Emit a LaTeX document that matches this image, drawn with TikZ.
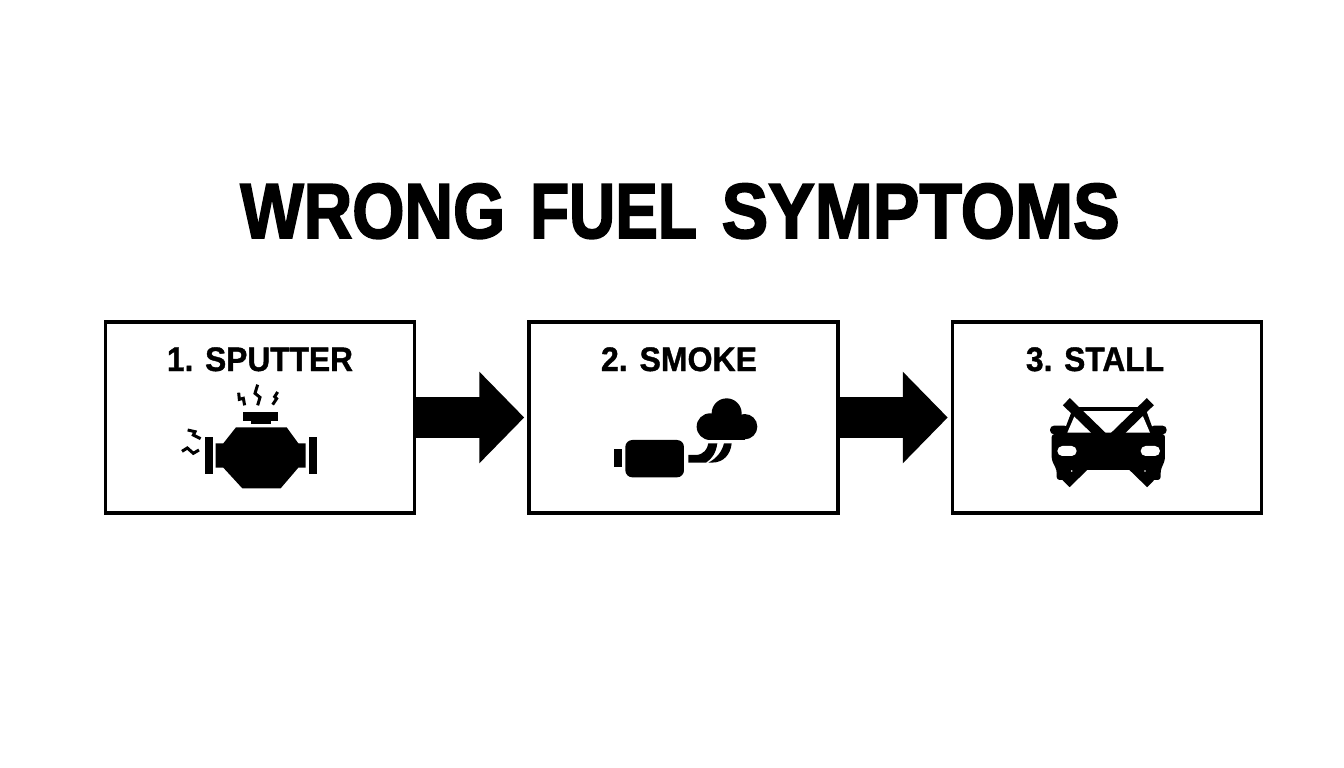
\documentclass[tikz,border=0pt]{standalone}
\usepackage{fontspec}
\usepackage{graphicx}
\setmainfont{Liberation Sans}[BoldFeatures={FakeBold=1.2}]
\newfontfamily\titlefont{Liberation Sans}[BoldFeatures={FakeBold=2.4}]
\usetikzlibrary{arrows.meta}
\newcommand{\fitw}[2]{\resizebox{#1}{\height}{\bfseries #2}}
\tikzset{
  x=1pt,y=-1pt,
  stepbox/.style={draw=black,line width=3.5pt,minimum width=309pt,minimum height=191pt,inner sep=0pt,outer sep=1.75pt},
  steplabel/.style={inner sep=0pt,font=\fontsize{34pt}{34pt}\selectfont,text=black,anchor=base},
  bigarrow/.style={line width=41pt,-{Triangle[length=45pt,width=89pt]},shorten >=3pt},
  squig/.style={line width=3pt,draw=black,fill=none,line join=miter},
  zoomA/.style={shift={(160,370)},x=0.3333pt,y=-0.3333pt},
  zoomB/.style={shift={(600,390)},x=0.3333pt,y=-0.3333pt},
  zoomC/.style={shift={(1030,385)},x=0.3333pt,y=-0.3333pt}
}
\begin{document}
\begin{tikzpicture}
\useasboundingbox (0,0) rectangle (1344,768);
\fill[white] (0,0) rectangle (1344,768);
\node[inner sep=0pt,anchor=base,font=\titlefont\fontsize{78pt}{78pt}\selectfont] (title) at (680,238) {\fitw{265pt}{WRONG}\hspace{3pt} \fitw{167pt}{FUEL}\hspace{3pt} \fitw{398pt}{SYMPTOMS}};
\node[stepbox] (a) at (260,417.5) {};
\node[stepbox] (b) at (683.5,417.5) {};
\node[stepbox] (c) at (1107,417.5) {};
\node[steplabel] (la) at (260,371) {\fitw{186pt}{1. SPUTTER}};
\node[steplabel] (lb) at (679,371) {\fitw{156pt}{2. SMOKE}};
\node[steplabel] (lc) at (1095,371) {\fitw{138pt}{3. STALL}};
\draw[bigarrow] (a.east) -- (b.west);
\draw[bigarrow] (b.east) -- (c.west);
% engine
\begin{scope}[zoomA]
\fill (228,172)--(380,172)--(415,220)--(437,220)--(437,293)--(415,293)--(362,355)--(247,355)--(190,293)--(167,293)--(167,220)--(190,220)--cycle;
\fill (134,200) rectangle (158,312);
\fill (446,202) rectangle (470,312);
\fill (250,127) rectangle (355,152);
\fill (272,152) rectangle (332,162);
\draw[squig] (293,44)--(285,70)--(300,82)--(293,106);
\draw[squig] (236,68)--(238,88)--(250,85)--(254,106);
\draw[squig] (353,66)--(344,80)--(350,86)--(338,104);
\draw[squig] (83,180)--(105,185)--(100,195)--(122,206);
\draw[squig] (66,244)--(82,234)--(100,250)--(117,240);
\end{scope}
% exhaust and smoke
\begin{scope}[zoomB]
\fill (42,178) rectangle (65,232);
\fill[rounded corners=7pt] (76,150) rectangle (252,262);
\fill (265,195) -- (290,195) .. controls (312,192) and (322,178) .. (325,160) -- (352,160) .. controls (348,190) and (335,207) .. (318,218) -- (265,218) -- cycle;
\fill (372,160) -- (395,160) .. controls (392,192) and (372,218) .. (335,218) -- (325,218) .. controls (350,205) and (366,185) .. (372,160) -- cycle;
\fill (380,70) circle[radius=45];
\fill (330,110) circle[radius=40];
\fill (434,110) circle[radius=38];
\fill (330,90) rectangle (434,149);
\end{scope}
% car
\begin{scope}[zoomC]
\fill[rounded corners=3pt] (65,147) -- (405,147) -- (405,225) -- (392,255) -- (392,285) -- (330,285) -- (330,255) -- (140,255) -- (140,285) -- (80,285) -- (80,255) -- (65,225) -- cycle;
\fill[rounded corners=4pt] (60,122) rectangle (115,148);
\fill[rounded corners=4pt] (360,122) rectangle (410,148);
\fill (130,66)--(345,66)--(375,150)--(98,150)--cycle;
\fill[white] (140,78)--(332,78)--(360,143)--(112,143)--cycle;
\fill[white,rounded corners=5pt] (82,183) rectangle (140,213);
\fill[white,rounded corners=5pt] (332,183) rectangle (390,213);
\draw[line width=10pt] (109,50)--(362,296);
\draw[line width=10pt] (361,50)--(108,296);
\fill[white] (125,258) circle[radius=2.5];
\fill[white] (345,258) circle[radius=2.5];
\end{scope}
\end{tikzpicture}
\end{document}
